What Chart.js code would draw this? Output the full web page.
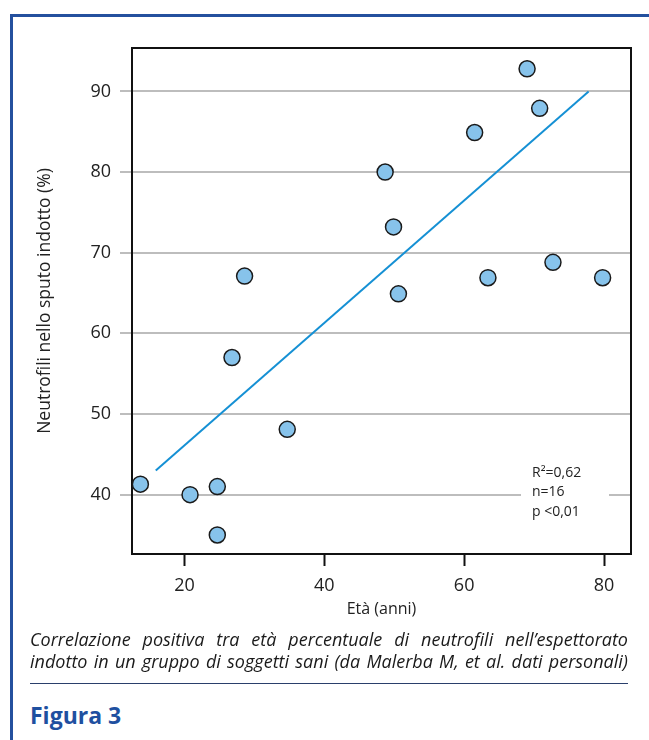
<!DOCTYPE html>
<html>
<head>
<meta charset="utf-8">
<script src="https://cdn.jsdelivr.net/npm/chart.js@4.4.1/dist/chart.umd.min.js"></script>
<style>
  html, body { margin:0; padding:0; background:#fff; }
  body { width:649px; height:740px; position:relative; overflow:hidden; font-family:"Open Sans", sans-serif; }
  #frame { position:absolute; left:10px; top:14px; width:700px; height:800px; border-top:3px solid #24509e; border-left:3px solid #24509e; box-sizing:border-box; }
  #c { position:absolute; left:0; top:0; }
  .cap { position:absolute; left:30px; width:598px; font-style:italic; font-size:17px; color:#1a1a1a; text-align:justify; text-align-last:justify; line-height:20px; white-space:normal; }
  #rule { position:absolute; left:30px; top:683px; width:598px; height:1px; background:#2a3f6b; }
  #fig { position:absolute; left:30px; top:699px; font-weight:bold; font-size:23px; color:#1f50a0; }
  #meas { position:absolute; left:0; top:-100px; white-space:nowrap; font-style:italic; font-family:"Open Sans", sans-serif; font-size:20px; }
</style>
</head>
<body>
<div id="frame"></div>
<canvas id="c" width="649" height="630"></canvas>
<div class="cap" id="cap1" style="top:629px;">Correlazione positiva tra età percentuale di neutrofili nell’espettorato</div>
<div class="cap" id="cap2" style="top:651px;">indotto in un gruppo di soggetti sani (da Malerba M, et al. dati personali)</div>
<span id="meas"></span>
<div id="rule"></div>
<div id="fig">Figura 3</div>
<script>
// Data
const ageValues = [13.7, 20.8, 24.7, 24.7, 26.8, 28.6, 34.7, 48.7, 49.9, 50.6, 61.5, 63.4, 69.0, 70.8, 72.7, 79.8];
const neutroValues = [41.3, 40.0, 41.0, 35.0, 57.0, 67.1, 48.1, 80.0, 73.2, 64.9, 84.9, 66.9, 92.8, 87.9, 68.8, 66.9];
const fitX = [15.9, 77.8];
const fitY = [43.0, 90.0];
const xTicks = [20, 40, 60, 80];
const yTicks = [40, 50, 60, 70, 80, 90];
const statsLines = ["R\u00B2=0,62", "n=16", "p <0,01"];
const xTitle = "Età (anni)";
const yTitle = "Neutrofili nello sputo indotto (%)";

// fit caption size so that the second line fills the width naturally
(function () {
  const m = document.getElementById('meas');
  m.textContent = document.getElementById('cap2').textContent;
  const w = m.getBoundingClientRect().width;
  const size = Math.min(18, 20 * 596 / w);
  document.getElementById('cap1').style.fontSize = size + 'px';
  document.getElementById('cap2').style.fontSize = size + 'px';
})();

const pts = ageValues.map((x, i) => ({x: x, y: neutroValues[i]}));
const fit = fitX.map((x, i) => ({x: x, y: fitY[i]}));

const FONT = "'Open Sans', sans-serif";

const framePlugin = {
  id: 'framePlugin',
  beforeDatasetsDraw(chart) {
    const {ctx, chartArea: a} = chart;
    ctx.save();
    ctx.fillStyle = '#ffffff';
    ctx.fillRect(a.left + 389, 462, 88, 64);
    ctx.strokeStyle = '#111';
    ctx.lineWidth = 2;
    ctx.strokeRect(a.left, a.top, a.right - a.left, a.bottom - a.top);
    ctx.restore();
  },
  afterDraw(chart) {
    const {ctx, chartArea: a} = chart;
    ctx.save();
    ctx.fillStyle = '#222';
    ctx.font = "14px " + FONT;
    ctx.textBaseline = 'middle';
    ctx.textAlign = 'left';
    statsLines.forEach((t, i) => ctx.fillText(t, a.left + 400, 473 + i * 19.5));
    ctx.restore();
  }
};

new Chart(document.getElementById('c'), {
  type: 'scatter',
  data: {
    datasets: [
      {
        type: 'line',
        data: fit,
        borderColor: '#1590d4',
        borderWidth: 2,
        pointRadius: 0,
        fill: false,
        order: 2
      },
      {
        data: pts,
        backgroundColor: '#87c3eb',
        borderColor: '#1a1a1a',
        borderWidth: 1.5,
        pointRadius: 8,
        pointHoverRadius: 8,
        clip: false,
        order: 1
      }
    ]
  },
  options: {
    responsive: false,
    devicePixelRatio: 1,
    animation: false,
    events: [],
    layout: { padding: { top: 48, right: 18, left: 0, bottom: 0 } },
    plugins: { legend: { display: false }, tooltip: { enabled: false } },
    scales: {
      x: {
        type: 'linear',
        min: 12.5,
        max: 83.86,
        afterFit(s) { s.height = 76; },
        afterBuildTicks(s) { s.ticks = xTicks.map(v => ({value: v})); },
        grid: { drawOnChartArea: false, drawTicks: true, tickLength: 12, tickColor: '#111', tickWidth: 2 },
        border: { display: true, color: '#111', width: 2 },
        ticks: { padding: 9, color: '#222', font: { family: FONT, size: 18 } },
        title: { display: true, text: xTitle, color: '#222', font: { family: FONT, size: 16 }, padding: { top: 0, bottom: 11 } }
      },
      y: {
        type: 'linear',
        min: 32.64,
        max: 95.38,
        afterFit(s) { s.width = 132; },
        afterBuildTicks(s) { s.ticks = yTicks.map(v => ({value: v})); },
        grid: { color: '#bdbdbd', lineWidth: 2, drawTicks: true, tickLength: 12, tickColor: '#bdbdbd', tickWidth: 2 },
        border: { display: true, color: '#111', width: 2 },
        ticks: { padding: 9, color: '#222', font: { family: FONT, size: 18 } },
        title: { display: true, text: yTitle, color: '#222', font: { family: FONT, size: 17.5 }, padding: { top: 35, bottom: 0 } }
      }
    }
  },
  plugins: [framePlugin]
});
</script>
</body>
</html>
